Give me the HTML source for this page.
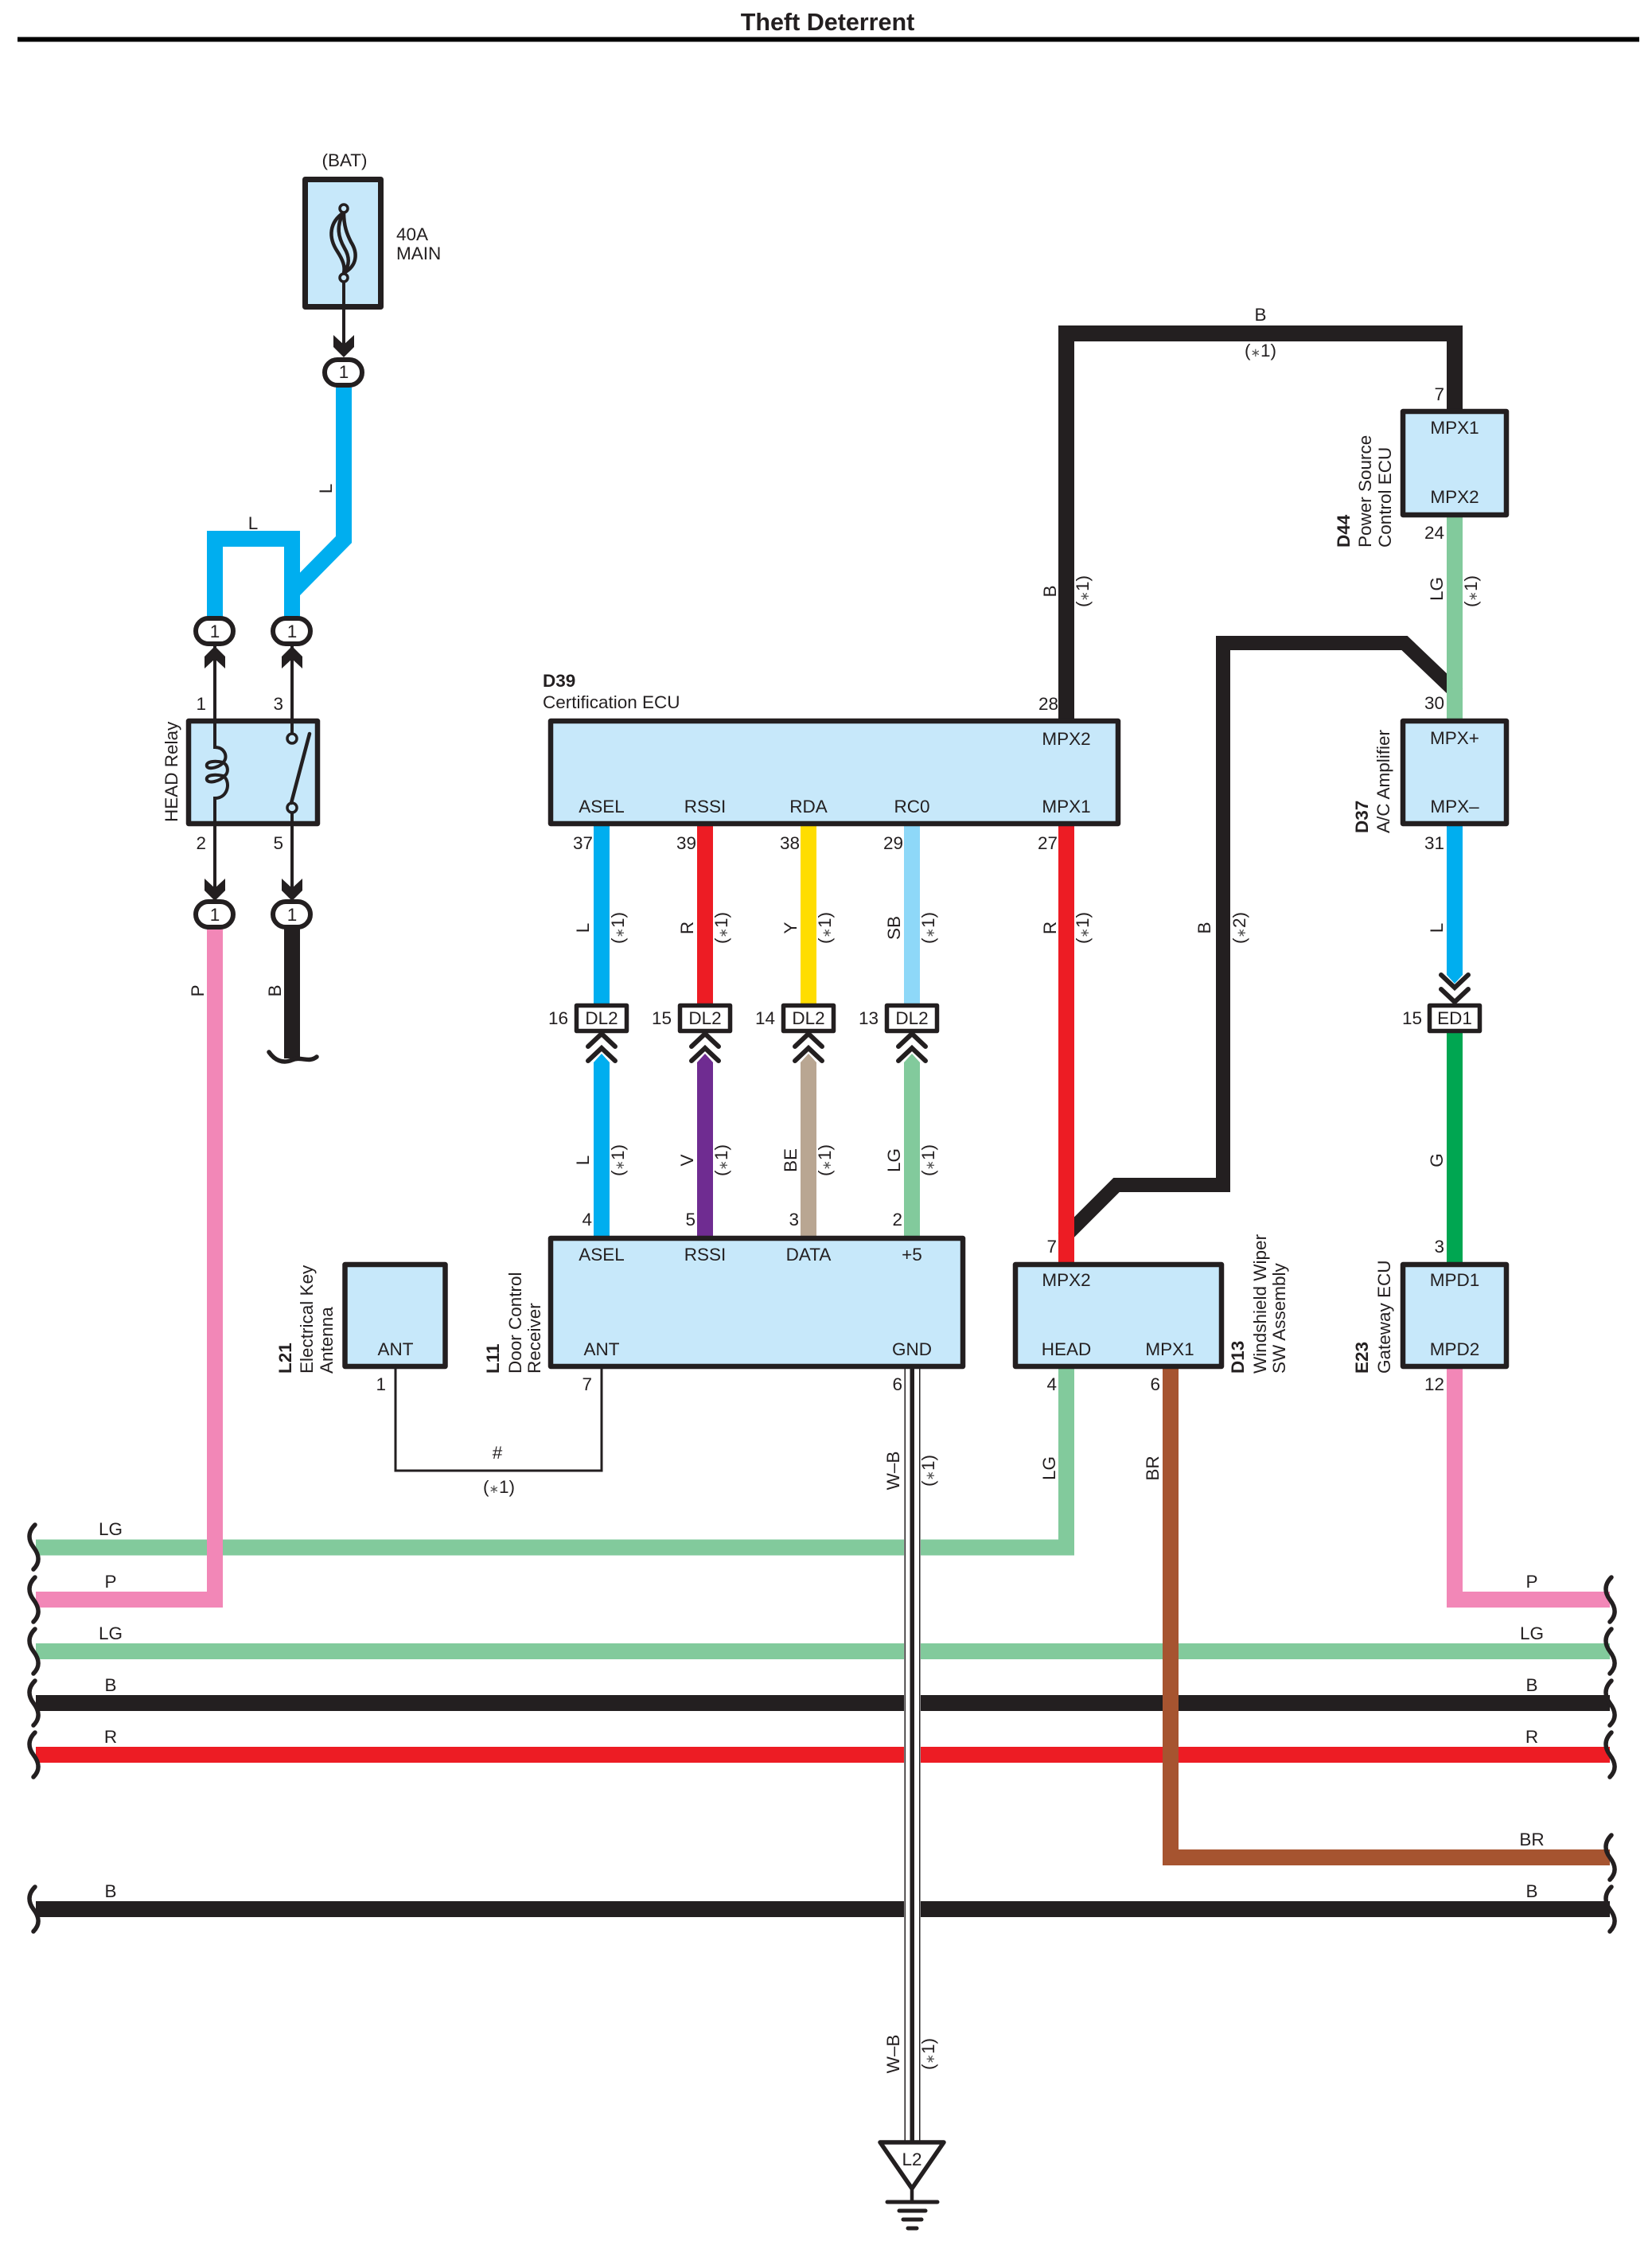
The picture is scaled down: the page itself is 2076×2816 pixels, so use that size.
<!DOCTYPE html>
<html><head><meta charset="utf-8"><title>Theft Deterrent</title>
<style>
html,body{margin:0;padding:0;background:#fff}
svg{display:block}
text{font-family:"Liberation Sans",sans-serif;font-size:22.5px;fill:#231f20}
.m{text-anchor:middle}
.e{text-anchor:end}
.b{font-weight:bold}
.w{fill:none;stroke-width:20;stroke-linejoin:miter}
.k{fill:none;stroke:#231f20;stroke-width:4}
.box{fill:#c7e8fa;stroke:#231f20;stroke-width:6.500;stroke-linejoin:round}
.oval{fill:#fff;stroke:#231f20;stroke-width:6}
.con{fill:#fff;stroke:#231f20;stroke-width:5.5;stroke-linejoin:round}
.chev{fill:none;stroke:#231f20;stroke-width:6;stroke-linecap:round;stroke-linejoin:miter}
.wave{fill:none;stroke:#231f20;stroke-width:5.5;stroke-linecap:round}
.s{font-size:15px;fill:#555}
</style></head><body>
<svg width="2076" height="2816" viewBox="0 0 2076 2816" xmlns="http://www.w3.org/2000/svg">
<defs>
<path id="wv" class="wave" d="M2,-28 C-8,-18 -6,-8 0,0 C6,8 10,18 0,28"/>
<polygon id="ad" fill="#231f20" points="-13,-28 0,-16 13,-28 13,-13 0,0 -13,-13"/>
<polygon id="au" fill="#231f20" points="-13,28 0,16 13,28 13,13 0,0 -13,13"/>
<g id="chu"><path class="chev" d="M-17,17 L0,1 L17,17"/><path class="chev" d="M-17,35 L0,19 L17,35"/></g>
<g id="chd"><path class="chev" d="M-17,-17 L0,-1 L17,-17"/><path class="chev" d="M-17,-35 L0,-19 L17,-35"/></g>
</defs>
<rect width="2076" height="2816" fill="#fff"/>

<!-- title -->
<text x="1040" y="38" class="m b" style="font-size:30.5px">Theft Deterrent</text>
<rect x="22" y="46.500" width="2038" height="6" fill="#000"/>

<!-- horizontal bus wires -->
<path class="w" stroke="#82ca9c" d="M45,1944.500 H1340 V1720"/>
<path class="w" stroke="#82ca9c" d="M45,2075 H2023"/>
<path class="w" stroke="#231f20" d="M45,2140 H2023"/>
<path class="w" stroke="#ed1c24" d="M45,2205 H2023"/>
<path class="w" stroke="#231f20" d="M45,2399 H2023"/>
<path class="w" stroke="#f287b7" d="M45,2010 H270 V1160"/>
<path class="w" stroke="#f287b7" d="M2023,2010 H1828 V1720"/>
<path class="w" stroke="#a65430" d="M1471,1720 V2334 H2023"/>

<!-- GND gap and lines -->
<rect x="1136" y="1720" width="21" height="970" fill="#fff"/>
<rect x="1136.500" y="1720" width="1.500" height="972" fill="#231f20"/>
<rect x="1155" y="1720" width="1.500" height="972" fill="#231f20"/>
<rect x="1143.500" y="1720" width="5.500" height="975" fill="#231f20"/>

<!-- waves -->
<g>
<use href="#wv" x="42" y="1944"/><use href="#wv" x="42" y="2010"/><use href="#wv" x="42" y="2075"/><use href="#wv" x="42" y="2140"/><use href="#wv" x="42" y="2205"/><use href="#wv" x="42" y="2399"/>
<use href="#wv" x="2023" y="2010"/><use href="#wv" x="2023" y="2075"/><use href="#wv" x="2023" y="2140"/><use href="#wv" x="2023" y="2205"/><use href="#wv" x="2023" y="2334"/><use href="#wv" x="2023" y="2399"/>
</g>

<!-- black wires -->
<path class="w" stroke="#231f20" d="M1340,906 V419 H1828 V520"/>
<path fill="none" stroke="#231f20" stroke-width="18" d="M1336,1556 L1403,1489 H1537 V808 H1765 L1832,872"/>
<!-- mid wires -->
<path class="w" stroke="#82ca9c" d="M1828,645 V906"/>
<path class="w" stroke="#ed1c24" d="M1340,1036 V1588"/>
<path class="w" stroke="#00aeef" d="M432,485 V678 L367,744 V775"/>
<path class="w" stroke="#00aeef" d="M270,775 V677 H367 V744"/>
<path class="w" stroke="#231f20" d="M367,1165 V1330"/>
<path class="wave" d="M338,1322 C345,1332 355,1337 367,1332 C378,1327 388,1336 398,1328"/>

<path class="w" stroke="#00aeef" d="M756,1036 V1265"/>
<path class="w" stroke="#ed1c24" d="M886,1036 V1265"/>
<path class="w" stroke="#ffdd00" d="M1016,1036 V1265"/>
<path class="w" stroke="#8ed8f8" d="M1146,1036 V1265"/>
<polygon fill="#00aeef" points="746,1558 746,1335 756,1324 766,1335 766,1558"/>
<polygon fill="#6f2c91" points="876,1558 876,1335 886,1324 896,1335 896,1558"/>
<polygon fill="#b9a692" points="1006,1558 1006,1335 1016,1324 1026,1335 1026,1558"/>
<polygon fill="#82ca9c" points="1136,1558 1136,1335 1146,1324 1156,1335 1156,1558"/>
<polygon fill="#00aeef" points="1818,1036 1838,1036 1838,1225 1828,1236 1818,1225"/>
<path class="w" stroke="#00a651" d="M1828,1295 V1588"/>

<!-- antenna wire -->
<path fill="none" stroke="#231f20" stroke-width="3" d="M497,1720 V1848 H756 V1720"/>

<!-- boxes -->
<rect class="box" x="383.500" y="225.500" width="95" height="160" style="stroke-width:7"/>
<rect class="box" x="237" y="906" width="162" height="129"/>
<rect class="box" x="692" y="906" width="713" height="129"/>
<rect class="box" x="692" y="1556" width="518" height="161"/>
<rect class="box" x="433.500" y="1589" width="126" height="128"/>
<rect class="box" x="1276" y="1589" width="259" height="128"/>
<rect class="box" x="1763" y="1589" width="130" height="128"/>
<rect class="box" x="1763" y="517" width="130" height="130"/>
<rect class="box" x="1763" y="906" width="130" height="129"/>

<!-- fuse -->
<path class="k" d="M432,349 V442"/>
<g fill="none" stroke="#231f20" stroke-width="4.500">
<path d="M432,267 C414,279 412,298 424,316 C431,327 434,335 432,343"/>
<path d="M432,267 C422,284 425,298 433,312 C439,322 440,333 432,343"/>
<path d="M432,267 C432,284 436,294 441,304 C450,318 449,334 432,343"/>
</g>
<circle cx="432" cy="262" r="5" fill="#c7e8fa" stroke="#231f20" stroke-width="3.500"/>
<circle cx="432" cy="349" r="5" fill="#c7e8fa" stroke="#231f20" stroke-width="3.500"/>
<use href="#ad" x="432" y="449"/>
<rect class="oval" x="408" y="452" width="47" height="32" rx="16"/>
<text x="432" y="475" class="m">1</text>

<!-- relay internals -->
<path class="k" d="M270,812 V939 C282,939 286,950 282,956 C278,964 262,968 260,963 C258,956 272,956 280,958 C288,962 287,972 282,975 C276,982 262,985 260,980 C258,973 272,973 280,975 C290,980 288,1003 270,1003 V1132"/>
<path class="k" d="M367,812 V922 M367,1021 V1132"/>
<circle cx="367" cy="928" r="6" fill="#c7e8fa" stroke="#231f20" stroke-width="3.500"/>
<circle cx="367" cy="1015" r="6" fill="#c7e8fa" stroke="#231f20" stroke-width="3.500"/>
<path d="M366,1009 L389,922" fill="none" stroke="#231f20" stroke-width="4.500" stroke-linecap="round"/>
<use href="#au" x="270" y="812"/><use href="#au" x="367" y="812"/>
<use href="#ad" x="270" y="1132"/><use href="#ad" x="367" y="1132"/>
<rect class="oval" x="246" y="777" width="47" height="32" rx="16"/>
<rect class="oval" x="343" y="777" width="47" height="32" rx="16"/>
<rect class="oval" x="246" y="1133" width="47" height="32" rx="16"/>
<rect class="oval" x="343" y="1133" width="47" height="32" rx="16"/>
<text x="270" y="801" class="m">1</text><text x="367" y="801" class="m">1</text>
<text x="270" y="1157" class="m">1</text><text x="367" y="1157" class="m">1</text>

<!-- inline connectors -->
<rect class="con" x="724.500" y="1263.500" width="63" height="32"/>
<rect class="con" x="854.500" y="1263.500" width="63" height="32"/>
<rect class="con" x="984.500" y="1263.500" width="63" height="32"/>
<rect class="con" x="1114.500" y="1263.500" width="63" height="32"/>
<rect class="con" x="1796.500" y="1263.500" width="63" height="32"/>
<use href="#chu" x="756" y="1298"/><use href="#chu" x="886" y="1298"/><use href="#chu" x="1016" y="1298"/><use href="#chu" x="1146" y="1298"/>
<use href="#chd" x="1828" y="1260"/>
<text x="756" y="1287" class="m">DL2</text><text x="886" y="1287" class="m">DL2</text><text x="1016" y="1287" class="m">DL2</text><text x="1146" y="1287" class="m">DL2</text><text x="1828" y="1287" class="m">ED1</text>

<!-- ground -->
<polygon points="1106,2692 1186,2692 1146,2750" fill="#fff" stroke="#231f20" stroke-width="5.500" stroke-linejoin="round"/>
<path d="M1146,2750 V2768" stroke="#231f20" stroke-width="4.500"/>
<g stroke="#231f20" stroke-linecap="round" stroke-width="5"><path d="M1115,2767 H1178"/><path d="M1130,2778 H1163"/><path d="M1135,2789 H1158"/><path d="M1141,2800 H1152"/></g>
<text x="1146" y="2721" class="m">L2</text>

<!-- fuse labels -->
<text x="433" y="209" class="m">(BAT)</text>
<text x="498" y="302">40A</text><text x="498" y="326">MAIN</text>

<!-- pin numbers -->
<text x="259" y="892" class="e">1</text><text x="356" y="892" class="e">3</text>
<text x="259" y="1067" class="e">2</text><text x="356" y="1067" class="e">5</text>
<text x="745" y="1067" class="e">37</text><text x="875" y="1067" class="e">39</text><text x="1005" y="1067" class="e">38</text><text x="1135" y="1067" class="e">29</text><text x="1329" y="1067" class="e">27</text>
<text x="1330" y="892" class="e">28</text>
<text x="714" y="1287" class="e">16</text><text x="844" y="1287" class="e">15</text><text x="974" y="1287" class="e">14</text><text x="1104" y="1287" class="e">13</text><text x="1787" y="1287" class="e">15</text>
<text x="744" y="1540" class="e">4</text><text x="874" y="1540" class="e">5</text><text x="1004" y="1540" class="e">3</text><text x="1134" y="1540" class="e">2</text>
<text x="1328" y="1574" class="e">7</text><text x="1815" y="1574" class="e">3</text>
<text x="485" y="1747" class="e">1</text><text x="744" y="1747" class="e">7</text><text x="1134" y="1747" class="e">6</text><text x="1328" y="1747" class="e">4</text><text x="1458" y="1747" class="e">6</text><text x="1815" y="1747" class="e">12</text>
<text x="1815" y="503" class="e">7</text><text x="1815" y="677" class="e">24</text><text x="1815" y="891" class="e">30</text><text x="1815" y="1067" class="e">31</text>

<!-- box text -->
<text x="1340" y="936" class="m">MPX2</text>
<text x="756" y="1021" class="m">ASEL</text><text x="886" y="1021" class="m">RSSI</text><text x="1016" y="1021" class="m">RDA</text><text x="1146" y="1021" class="m">RC0</text><text x="1340" y="1021" class="m">MPX1</text>
<text x="756" y="1584" class="m">ASEL</text><text x="886" y="1584" class="m">RSSI</text><text x="1016" y="1584" class="m">DATA</text><text x="1146" y="1584" class="m">+5</text>
<text x="756" y="1703" class="m">ANT</text><text x="1146" y="1703" class="m">GND</text><text x="497" y="1703" class="m">ANT</text>
<text x="1340" y="1616" class="m">MPX2</text><text x="1340" y="1703" class="m">HEAD</text><text x="1470" y="1703" class="m">MPX1</text>
<text x="1828" y="1616" class="m">MPD1</text><text x="1828" y="1703" class="m">MPD2</text>
<text x="1828" y="545" class="m">MPX1</text><text x="1828" y="632" class="m">MPX2</text>
<text x="1828" y="935" class="m">MPX+</text><text x="1828" y="1021" class="m">MPX–</text>

<!-- component names -->
<text x="682" y="863" class="b">D39</text><text x="682" y="890">Certification ECU</text>
<text transform="translate(223,1033) rotate(-90)">HEAD Relay</text>
<text transform="translate(366,1726) rotate(-90)" class="b">L21</text>
<text transform="translate(393,1726) rotate(-90)">Electrical Key</text>
<text transform="translate(418,1726) rotate(-90)">Antenna</text>
<text transform="translate(627,1726) rotate(-90)" class="b">L11</text>
<text transform="translate(655,1726) rotate(-90)">Door Control</text>
<text transform="translate(679,1726) rotate(-90)">Receiver</text>
<text transform="translate(1563,1726) rotate(-90)" class="b">D13</text>
<text transform="translate(1591,1726) rotate(-90)">Windshield Wiper</text>
<text transform="translate(1615,1726) rotate(-90)">SW Assembly</text>
<text transform="translate(1719,1726) rotate(-90)" class="b">E23</text>
<text transform="translate(1747,1726) rotate(-90)">Gateway ECU</text>
<text transform="translate(1719,1047) rotate(-90)" class="b">D37</text>
<text transform="translate(1746,1047) rotate(-90)">A/C Amplifier</text>
<text transform="translate(1696,688) rotate(-90)" class="b">D44</text>
<text transform="translate(1723,688) rotate(-90)">Power Source</text>
<text transform="translate(1748,688) rotate(-90)">Control ECU</text>

<!-- wire labels rotated -->
<text class="m" transform="translate(417,614) rotate(-90)">L</text>
<text class="m" transform="translate(256,1245) rotate(-90)">P</text>
<text class="m" transform="translate(353,1245) rotate(-90)">B</text>
<text class="m" transform="translate(740,1166) rotate(-90)">L</text>
<text class="m" transform="translate(871,1166) rotate(-90)">R</text>
<text class="m" transform="translate(1001,1166) rotate(-90)">Y</text>
<text class="m" transform="translate(1131,1166) rotate(-90)">SB</text>
<text class="m" transform="translate(1327,1166) rotate(-90)">R</text>
<text class="m" transform="translate(1327,743) rotate(-90)">B</text>
<text class="m" transform="translate(1521,1166) rotate(-90)">B</text>
<text class="m" transform="translate(1813,740) rotate(-90)">LG</text>
<text class="m" transform="translate(1813,1166) rotate(-90)">L</text>
<text class="m" transform="translate(1813,1458) rotate(-90)">G</text>
<text class="m" transform="translate(740,1458) rotate(-90)">L</text>
<text class="m" transform="translate(871,1458) rotate(-90)">V</text>
<text class="m" transform="translate(1001,1458) rotate(-90)">BE</text>
<text class="m" transform="translate(1131,1458) rotate(-90)">LG</text>
<text class="m" transform="translate(1130,1848) rotate(-90)">W–B</text>
<text class="m" transform="translate(1130,2581) rotate(-90)">W–B</text>
<text class="m" transform="translate(1326,1845) rotate(-90)">LG</text>
<text class="m" transform="translate(1456,1845) rotate(-90)">BR</text>

<text class="m" transform="translate(784,1166) rotate(-90)">(<tspan class="s">∗</tspan>1)</text>
<text class="m" transform="translate(914,1166) rotate(-90)">(<tspan class="s">∗</tspan>1)</text>
<text class="m" transform="translate(1044,1166) rotate(-90)">(<tspan class="s">∗</tspan>1)</text>
<text class="m" transform="translate(1174,1166) rotate(-90)">(<tspan class="s">∗</tspan>1)</text>
<text class="m" transform="translate(1368,1166) rotate(-90)">(<tspan class="s">∗</tspan>1)</text>
<text class="m" transform="translate(1368,743) rotate(-90)">(<tspan class="s">∗</tspan>1)</text>
<text class="m" transform="translate(1565,1166) rotate(-90)">(<tspan class="s">∗</tspan>2)</text>
<text class="m" transform="translate(1856,743) rotate(-90)">(<tspan class="s">∗</tspan>1)</text>
<text class="m" transform="translate(784,1458) rotate(-90)">(<tspan class="s">∗</tspan>1)</text>
<text class="m" transform="translate(914,1458) rotate(-90)">(<tspan class="s">∗</tspan>1)</text>
<text class="m" transform="translate(1044,1458) rotate(-90)">(<tspan class="s">∗</tspan>1)</text>
<text class="m" transform="translate(1174,1458) rotate(-90)">(<tspan class="s">∗</tspan>1)</text>
<text class="m" transform="translate(1174,1848) rotate(-90)">(<tspan class="s">∗</tspan>1)</text>
<text class="m" transform="translate(1174,2581) rotate(-90)">(<tspan class="s">∗</tspan>1)</text>

<!-- horizontal wire labels -->
<text x="318" y="665" class="m">L</text>
<text x="1584" y="403" class="m">B</text>
<text x="1584" y="448" class="m">(<tspan class="s">∗</tspan>1)</text>
<text x="625" y="1833" class="m">#</text>
<text x="627" y="1876" class="m">(<tspan class="s">∗</tspan>1)</text>
<text x="139" y="1929" class="m">LG</text><text x="139" y="1995" class="m">P</text><text x="139" y="2060" class="m">LG</text><text x="139" y="2125" class="m">B</text><text x="139" y="2190" class="m">R</text><text x="139" y="2384" class="m">B</text>
<text x="1925" y="1995" class="m">P</text><text x="1925" y="2060" class="m">LG</text><text x="1925" y="2125" class="m">B</text><text x="1925" y="2190" class="m">R</text><text x="1925" y="2319" class="m">BR</text><text x="1925" y="2384" class="m">B</text>
</svg>
</body></html>
